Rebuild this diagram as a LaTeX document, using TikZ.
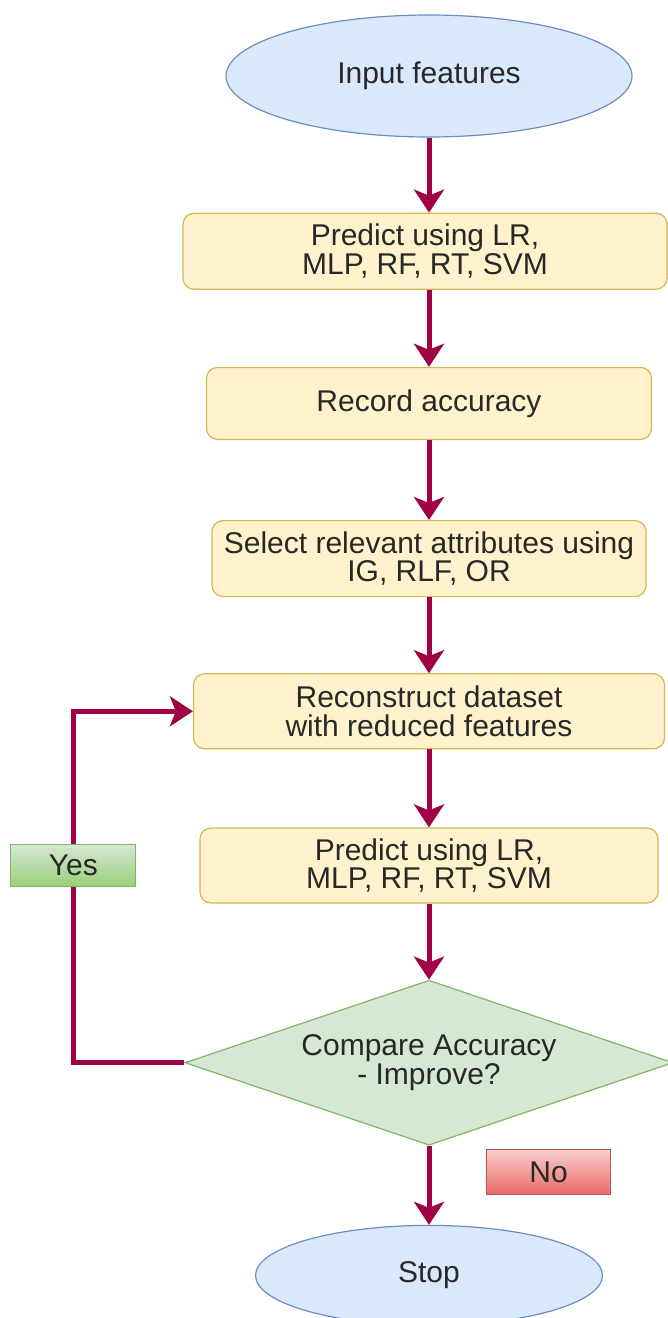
\documentclass[tikz,border=0pt]{standalone}
\usepackage{fontspec}
\setmainfont{Liberation Sans}
\usetikzlibrary{positioning,shapes.geometric,arrows.meta}

\definecolor{termfill}{HTML}{DAE8FC}
\definecolor{termline}{HTML}{6C8EBF}
\definecolor{procfill}{HTML}{FFF2CC}
\definecolor{procline}{HTML}{D6B656}
\definecolor{decfill}{HTML}{D5E8D4}
\definecolor{decline}{HTML}{82B366}
\definecolor{yesbottom}{HTML}{97D077}
\definecolor{notop}{HTML}{F8CECC}
\definecolor{nobottom}{HTML}{EA6B66}
\definecolor{noline}{HTML}{B85450}
\definecolor{flowcol}{RGB}{160,0,70}
\definecolor{txtcol}{RGB}{40,40,40}

\begin{document}
\begin{tikzpicture}[x=1pt,y=1pt,
  every node/.style={font=\fontsize{30}{28.5}\selectfont,text=txtcol,align=center,inner sep=0pt},
  termnode/.style={ellipse,draw=termline,fill=termfill,line width=1.2pt},
  procbox/.style={rectangle,rounded corners=11pt,draw=procline,fill=procfill,line width=1.2pt},
  decnode/.style={diamond,aspect=2.96,draw=decline,fill=decfill,line width=1.2pt},
  yeslabel/.style={rectangle,draw=decline,top color=decfill,bottom color=yesbottom,line width=1.2pt,minimum width=125pt,minimum height=42pt},
  nolabel/.style={rectangle,draw=noline,top color=notop,bottom color=nobottom,line width=1.2pt,minimum width=124pt,minimum height=45pt},
  flowline/.style={draw=flowcol,line width=5pt},
  flowarrow/.style={flowline,-{Stealth[length=23pt,width=30pt,inset=6pt]}}]
  \useasboundingbox (0,0) rectangle (668,-1318);
  \node[termnode,minimum width=406pt,minimum height=122pt] (input) at (429,-76) {Input features};
  \node[procbox,minimum width=484pt,minimum height=76pt,below=75pt of input,xshift=-4pt] (predict) {Predict using LR,\\MLP, RF, RT, SVM};
  \node[procbox,minimum width=445pt,minimum height=72pt,below=77pt of predict,xshift=4pt] (record) {Record accuracy};
  \node[procbox,minimum width=434pt,minimum height=76pt,below=80pt of record] (select) {Select relevant attributes using\\IG, RLF, OR};
  \node[procbox,minimum width=471pt,minimum height=75pt,below=76pt of select] (reconstruct) {Reconstruct dataset\\with reduced features};
  \node[procbox,minimum width=458pt,minimum height=75pt,below=78pt of reconstruct] (predictb) {Predict using LR,\\MLP, RF, RT, SVM};
  \node[decnode,minimum width=488pt,minimum height=165pt,below=76pt of predictb] (compare) {Compare Accuracy\\- Improve?};
  \node[termnode,minimum width=347pt,minimum height=100pt,below=79pt of compare] (stop) {Stop};
  \node[yeslabel,left=63pt of predictb] (yes) {Yes};
  \node[nolabel,below right=3pt and 57pt of compare.south] (no) {No};
  \draw[flowarrow] (input.south) -- (input.south |- predict.north);
  \draw[flowarrow] (record.north |- predict.south) -- (record.north);
  \draw[flowarrow] (record) -- (select);
  \draw[flowarrow] (select) -- (reconstruct);
  \draw[flowarrow] (reconstruct) -- (predictb);
  \draw[flowarrow] (predictb) -- (compare);
  \draw[flowarrow] (compare) -- (stop);
  \draw[flowline] (compare.west) -| (yes.south);
  \draw[flowarrow] (yes.north) |- (reconstruct.west);
\end{tikzpicture}
\end{document}
